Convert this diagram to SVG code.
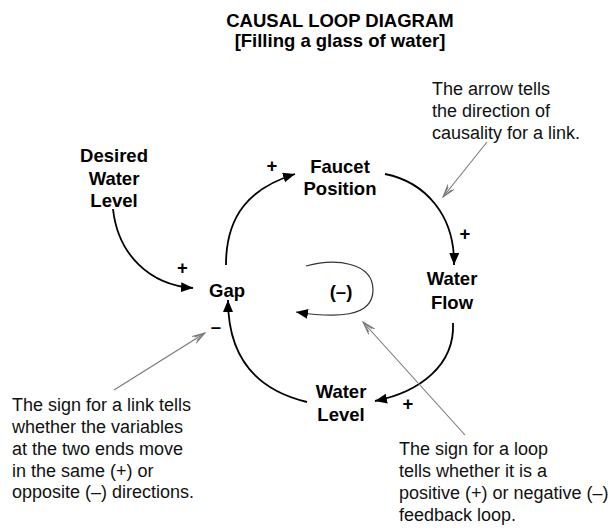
<svg xmlns="http://www.w3.org/2000/svg" width="616" height="531" viewBox="0 0 616 531">
<style>
.b{font-family:"Liberation Sans",Arial,sans-serif;font-weight:bold;font-size:18.5px;fill:#000;text-anchor:middle}
.n{font-family:"Liberation Sans",Arial,sans-serif;font-size:18px;fill:#111}
.link{fill:none;stroke:#000;stroke-width:1.8;marker-end:url(#ah)}
.loop{fill:none;stroke:#333;stroke-width:1.2;marker-end:url(#ah)}
.note{fill:none;stroke:#777;stroke-width:1.1;marker-end:url(#oh)}
</style>
<defs>
<marker id="ah" markerUnits="userSpaceOnUse" markerWidth="14" markerHeight="12" refX="12" refY="5" orient="auto">
<path d="M0,0 L12,5 L0,10 z" fill="#000"/>
</marker>
<marker id="oh" markerUnits="userSpaceOnUse" markerWidth="16" markerHeight="12" refX="13" refY="5" orient="auto">
<path d="M0,1 L13,5 L0,9 M2,2.8 L13,5 L2,7.2" fill="none" stroke="#777" stroke-width="1"/>
</marker>
</defs>
<rect width="616" height="531" fill="#fff"/>
<g id="title">
<text class="b" x="340" y="27">CAUSAL LOOP DIAGRAM</text>
<text class="b" x="340" y="47">[Filling a glass of water]</text>
</g>
<g id="connectors">
<path class="link" d="M113,209 C118,255 150,285 193,288"/>
<path class="link" d="M226,265 C226,215 250,188 295,174"/>
<path class="link" d="M385,174 C425,182 455,215 454,265"/>
<path class="link" d="M453,323 C455,365 420,392 375,401"/>
<path class="link" d="M307,402 C265,392 228,365 228,300"/>
<path class="loop" d="M306,266 C335,258 373,262 373,290 C373,318 335,318 296,312"/>
<path class="note" d="M487,142 L443,197"/>
<path class="note" d="M114,390 L205,333"/>
<path class="note" d="M465,435 L363,322"/>
</g>
<g id="signs">
<text class="b" x="182.5" y="274">+</text>
<text class="b" x="272" y="172">+</text>
<text class="b" x="465" y="240">+</text>
<text class="b" x="408" y="410">+</text>
<text class="b" x="216" y="333">–</text>
<text class="b" x="341" y="298">(–)</text>
</g>
<g id="node-desired">
<text class="b" x="114" y="162">Desired</text>
<text class="b" x="114" y="185">Water</text>
<text class="b" x="114" y="207">Level</text>
</g>
<g id="node-faucet">
<text class="b" x="340" y="173">Faucet</text>
<text class="b" x="340" y="195">Position</text>
</g>
<g id="node-flow">
<text class="b" x="452" y="285">Water</text>
<text class="b" x="452" y="309">Flow</text>
</g>
<g id="node-level">
<text class="b" x="341" y="398">Water</text>
<text class="b" x="341" y="421">Level</text>
</g>
<g id="node-gap">
<text class="b" x="227" y="297">Gap</text>
</g>
<g id="note-arrow">
<text class="n" x="432" y="94.5">The arrow tells</text>
<text class="n" x="432" y="116.5">the direction of</text>
<text class="n" x="432" y="138.5">causality for a link.</text>
</g>
<g id="note-link">
<text class="n" x="12" y="411">The sign for a link tells</text>
<text class="n" x="12" y="433">whether the variables</text>
<text class="n" x="12" y="455">at the two ends move</text>
<text class="n" x="12" y="477">in the same (+) or</text>
<text class="n" x="12" y="498">opposite (–) directions.</text>
</g>
<g id="note-loop">
<text class="n" x="399" y="454.5">The sign for a loop</text>
<text class="n" x="399" y="476.5">tells whether it is a</text>
<text class="n" x="399" y="498.5">positive (+) or negative (–)</text>
<text class="n" x="399" y="520.5">feedback loop.</text>
</g>
</svg>
